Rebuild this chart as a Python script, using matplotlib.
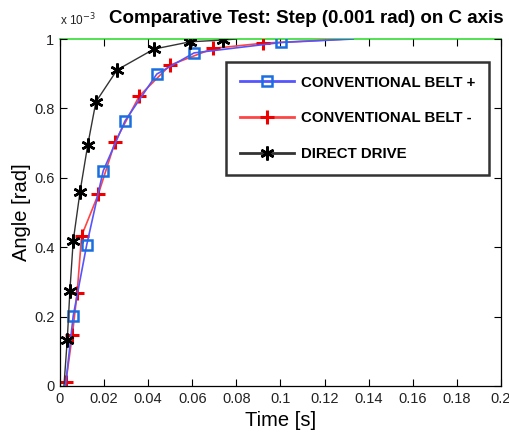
import matplotlib
matplotlib.use("Agg")
import matplotlib.pyplot as plt

plt.rcParams['font.family'] = ['Liberation Sans', 'DejaVu Sans']

# data (angle in units of 1e-3 rad)
t_belt_plus = [0.0025, 0.0060, 0.0121, 0.0196, 0.0295, 0.0439, 0.0608, 0.1002, 0.133]
a_belt_plus = [0.0, 0.202, 0.406, 0.620, 0.764, 0.899, 0.960, 0.990, 1.0]

t_belt_minus = [0.0027, 0.0056, 0.0078, 0.0098, 0.0174, 0.0250, 0.0360, 0.0500, 0.0696, 0.0920, 0.130]
a_belt_minus = [0.012, 0.147, 0.269, 0.433, 0.553, 0.704, 0.836, 0.925, 0.973, 0.988, 1.0]

t_direct = [0.0018, 0.0033, 0.0045, 0.0060, 0.0091, 0.0126, 0.0163, 0.0259, 0.0426, 0.0590, 0.0738, 0.080]
a_direct = [0.0, 0.133, 0.275, 0.418, 0.560, 0.695, 0.819, 0.911, 0.971, 0.992, 0.997, 1.0]

ref_t = [0.0, 0.2]
ref_a = [1.0, 1.0]

x_ticks = [0, 0.02, 0.04, 0.06, 0.08, 0.1, 0.12, 0.14, 0.16, 0.18, 0.2]
x_labels = ['0', '0.02', '0.04', '0.06', '0.08', '0.1', '0.12', '0.14', '0.16', '0.18', '0.2']
y_ticks = [0, 0.2, 0.4, 0.6, 0.8, 1]
y_labels = ['0', '0.2', '0.4', '0.6', '0.8', '1']

fig = plt.figure(figsize=(5.1, 4.42), dpi=100)
ax = fig.add_axes([0.1176, 0.1267, 0.8647, 0.785])

ax.plot(ref_t, ref_a, color='#33dd33', lw=1.2, zorder=1, clip_on=False)

ax.plot(t_belt_plus, a_belt_plus, color='#5555ff', lw=1.2,
        marker='s', ms=7, mfc='none', mec='#1a6fe0', mew=1.8,
        markevery=list(range(1, len(t_belt_plus) - 1)),
        label='CONVENTIONAL BELT +', zorder=3)
ax.plot(t_belt_minus, a_belt_minus, color='#ff4444', lw=1.2,
        marker='+', ms=10, mec='#ee0000', mew=2.2,
        markevery=list(range(0, len(t_belt_minus) - 1)),
        label='CONVENTIONAL BELT -', zorder=2)
ax.plot(t_direct, a_direct, color='#333333', lw=1.0,
        marker=(6, 2, 0), ms=10, mec='black', mew=1.8,
        markevery=list(range(1, len(t_direct) - 1)),
        label='DIRECT DRIVE', zorder=4)

ax.set_xlim(0, 0.2)
ax.set_ylim(0, 1)
ax.set_xticks(x_ticks)
ax.set_xticklabels(x_labels)
ax.set_yticks(y_ticks)
ax.set_yticklabels(y_labels)
ax.tick_params(direction='in', top=True, right=True, length=5, width=0.8,
               labelsize=10.5, labelcolor='#222222', pad=4)
for s in ax.spines.values():
    s.set_linewidth(0.9)
ax.spines['top'].set_visible(False)

ax.set_xlabel('Time [s]', fontsize=14.5, labelpad=4)
ax.set_ylabel('Angle [rad]', fontsize=14.5, labelpad=2)

fig.text(0.117, 0.955, r'x 10$^{-3}$', fontsize=8.5, color='#222222', ha='left', va='center')
fig.text(0.60, 0.958, 'Comparative Test: Step (0.001 rad) on C axis',
         fontsize=13.5, fontweight='bold', ha='center', va='center')

leg = ax.legend(loc='upper right', bbox_to_anchor=(0.99, 0.955),
                prop={'weight': 'bold', 'size': 10.8}, frameon=True,
                fancybox=False, edgecolor='black', borderpad=0.9,
                labelspacing=1.45, handlelength=3.6, handletextpad=0.5)
leg.get_frame().set_linewidth(1.8)
for h in leg.get_lines():
    h.set_linewidth(2.0)

fig.savefig('out.png', dpi=100)
